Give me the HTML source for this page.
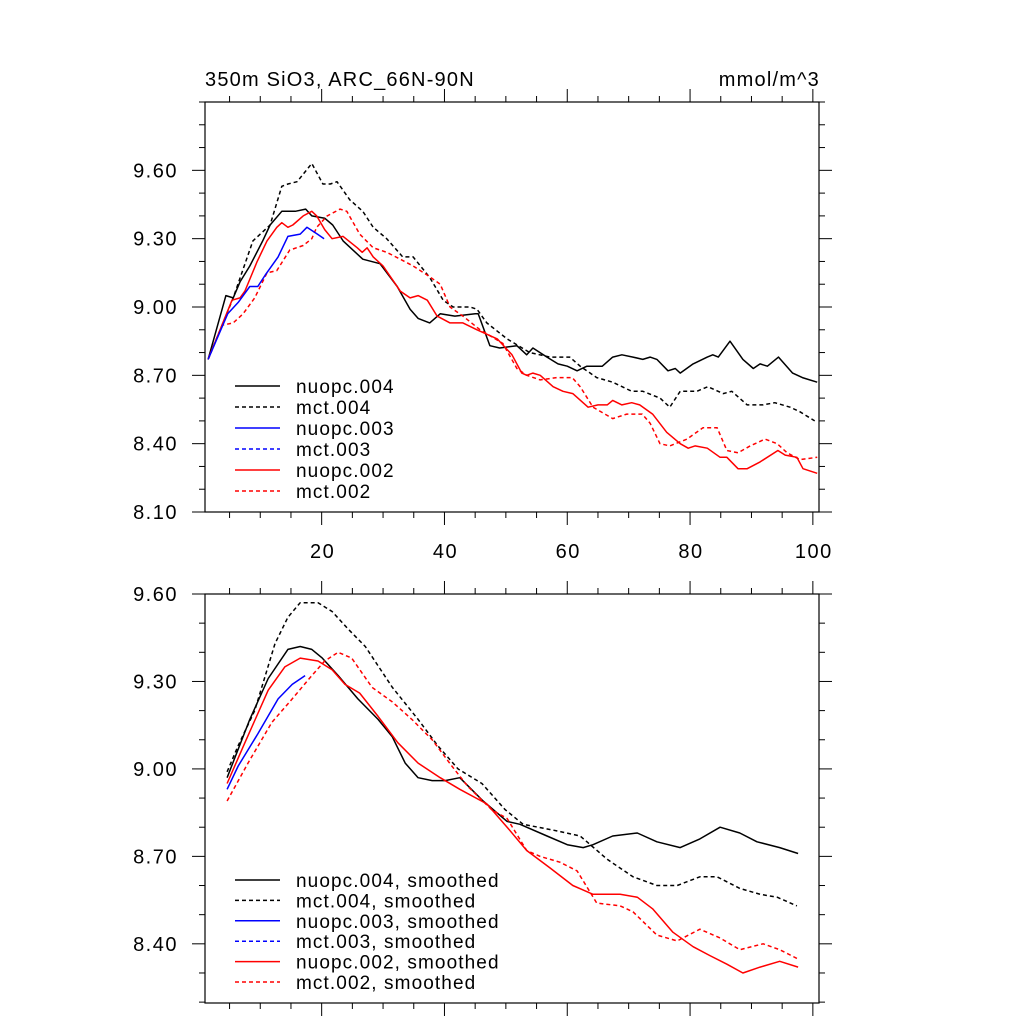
<!DOCTYPE html>
<html><head><meta charset="utf-8"><style>
html,body{margin:0;padding:0;background:#fff;}
svg{display:block;font-family:"Liberation Sans",sans-serif;}
</style></head><body>
<svg id="chart" width="1024" height="1024" viewBox="0 0 1024 1024" xmlns="http://www.w3.org/2000/svg">
<rect x="0" y="0" width="1024" height="1024" fill="#fff"/>
<text x="205" y="86" font-size="20" letter-spacing="1.2">350m SiO3, ARC_66N-90N</text>
<text x="820" y="86" font-size="20" letter-spacing="1.2" text-anchor="end">mmol/m^3</text>
<g id="top"></g>
<g id="bot"></g>
</svg>
<script>
// ---- data: top panel (raw) ----
const nuopc004X = [1.5,4.4,5.6,6.7,8.3,10.4,11.6,13.5,15.7,17.4,18.4,20.5,21.8,23.5,26.7,29.5,32.3,34.4,35.7,37.6,39.3,41.7,45,45.5,47.4,49.0,51.8,53.4,54.4,56.7,58.5,60.0,61.6,63.2,65.7,67.4,68.9,70.7,72.3,73.5,74.6,76.4,77.6,78.4,80.5,82.8,83.7,84.6,86.5,88.6,90.3,91.4,92.6,94.4,96.7,98.3,100.7];
const nuopc004Y = [8.77,9.05,9.04,9.11,9.18,9.29,9.36,9.42,9.42,9.43,9.40,9.39,9.36,9.29,9.21,9.19,9.09,8.99,8.95,8.93,8.97,8.96,8.97,8.97,8.83,8.82,8.83,8.79,8.82,8.78,8.75,8.74,8.72,8.74,8.74,8.78,8.79,8.78,8.77,8.78,8.77,8.72,8.73,8.71,8.75,8.78,8.79,8.78,8.85,8.77,8.73,8.75,8.74,8.78,8.71,8.69,8.67];
const mct004X = [1.5,5.6,8.8,10,11.6,13.5,14.5,16,18.4,20.2,21.4,22.5,24.6,26.7,28.4,30.6,33.2,34.9,37.6,39.8,41.4,44.2,45.3,46.9,50.2,53.9,57.2,60.4,62.1,64.8,67.4,70.5,72.3,75.1,76.7,78.4,81.1,82.9,85.4,86.8,89.3,91.9,93.8,96.3,97.9,100.3];
const mct004Y = [8.77,9.04,9.29,9.32,9.36,9.53,9.54,9.55,9.63,9.54,9.54,9.55,9.47,9.42,9.35,9.30,9.22,9.22,9.13,9.03,9.00,9.00,8.99,8.93,8.86,8.80,8.78,8.78,8.74,8.69,8.67,8.63,8.63,8.60,8.56,8.63,8.63,8.65,8.62,8.63,8.57,8.57,8.58,8.56,8.54,8.50];
const nuopc003X = [1.5,4.7,6.4,8.3,9.6,10.8,12.9,14.5,16.5,17.6,19.3,20.4];
const nuopc003Y = [8.77,8.97,9.02,9.09,9.09,9.14,9.22,9.31,9.32,9.35,9.32,9.30];
const nuopc002X = [1.5,5.4,6.7,7.5,9.5,11.1,12.7,13.5,14.5,15.3,17,18.4,19.2,20.5,21.7,23.5,25.8,26.6,27.4,28.4,30,32.8,34.4,35.7,37.2,38.8,40.9,43,45.3,48.6,51,52.6,53.4,54.4,55.6,57.7,59.3,60.9,63.4,65,66.5,67.4,68.9,70.5,71.8,73.9,76.2,78.4,79.7,80.8,82.8,84.9,86,87.8,89.3,91.4,94.3,95.5,97.4,98.4,100.7];
const nuopc002Y = [8.77,9.03,9.04,9.07,9.20,9.29,9.35,9.37,9.35,9.36,9.40,9.42,9.40,9.34,9.30,9.31,9.26,9.24,9.26,9.22,9.18,9.07,9.04,9.05,9.03,8.96,8.93,8.93,8.90,8.86,8.79,8.71,8.70,8.71,8.70,8.65,8.63,8.62,8.56,8.57,8.57,8.59,8.57,8.58,8.57,8.53,8.45,8.40,8.38,8.39,8.38,8.34,8.34,8.29,8.29,8.32,8.37,8.35,8.34,8.29,8.27];
const mct002X = [1.5,3.8,5.6,7.2,9.1,11.1,12.7,14.8,17,18.4,19.2,20.9,23,24.1,26.2,28.4,30.6,32.8,34.9,37.2,39.3,40.9,43,45.8,49.5,51.8,53.4,55.6,58.3,60.8,62.1,64.2,67.4,69.7,72.2,73.5,75.1,76.7,79.5,82.1,84.4,86,87.8,89.8,92.2,94.2,95.8,97.9,100.7];
const mct002Y = [8.77,8.92,8.93,8.97,9.04,9.15,9.16,9.25,9.27,9.30,9.35,9.40,9.43,9.42,9.32,9.26,9.24,9.21,9.18,9.14,9.10,9.00,8.96,8.90,8.84,8.73,8.70,8.68,8.69,8.69,8.65,8.56,8.51,8.53,8.53,8.49,8.40,8.39,8.42,8.47,8.47,8.37,8.36,8.39,8.42,8.40,8.36,8.33,8.34];

// ---- data: bottom panel (smoothed) ----
const sNuopc004X = [4.6,8.3,11.3,14.5,16.5,18.4,20.1,22.7,25.9,29.2,31.5,33.6,35.7,38,40.1,42.5,46.3,50.2,52.3,56.7,60,62.6,64.2,67.4,71.4,74.6,78.4,81.6,84.9,88.1,90.9,94.6,97.6];
const sNuopc004Y = [8.97,9.17,9.31,9.41,9.42,9.41,9.38,9.32,9.24,9.17,9.11,9.02,8.97,8.96,8.96,8.97,8.89,8.82,8.81,8.77,8.74,8.73,8.74,8.77,8.78,8.75,8.73,8.76,8.80,8.78,8.75,8.73,8.71];
const sMct004X = [4.6,6.4,9.1,12.4,14.5,16.5,19.4,21.7,24.3,27.1,31.5,35.7,38.9,42.2,46.1,49.9,52.8,57.7,62.1,66.5,70.7,74.6,77.9,81.6,84.4,88.1,91.4,94.2,97.4];
const sMct004Y = [8.99,9.08,9.20,9.43,9.52,9.57,9.57,9.54,9.48,9.42,9.28,9.17,9.08,9.00,8.95,8.86,8.81,8.79,8.77,8.69,8.63,8.60,8.60,8.63,8.63,8.59,8.57,8.56,8.53];
const sNuopc003X = [4.6,6.4,9.6,12.9,15.2,17.3];
const sNuopc003Y = [8.93,9.01,9.12,9.24,9.29,9.32];
const sNuopc002X = [4.6,7.5,11.3,14,16.5,19.4,21.7,23.8,26.2,29.2,32.4,35.7,39.3,42.5,46.9,50.2,53.4,57.2,60.9,64.2,68.6,71.4,73.9,77.2,80.5,83.2,86,88.6,91.4,94.6,97.6];
const sNuopc002Y = [8.95,9.09,9.27,9.35,9.38,9.37,9.34,9.29,9.26,9.18,9.09,9.02,8.97,8.93,8.88,8.80,8.72,8.66,8.60,8.57,8.57,8.56,8.52,8.44,8.39,8.36,8.33,8.30,8.32,8.34,8.32];
const sMct002X = [4.6,8,11.9,15.2,18.4,20.5,22.7,24.9,28.2,31.5,34.7,38,41.2,43.8,47.7,50.2,53.4,55.6,58.8,61.6,64.8,68.6,70.7,74.6,77.9,81.6,84.9,88.1,91.9,94.6,97.4];
const sMct002Y = [8.89,9.02,9.16,9.24,9.32,9.37,9.40,9.38,9.28,9.23,9.17,9.10,9.01,8.94,8.86,8.83,8.72,8.70,8.68,8.65,8.54,8.53,8.51,8.43,8.41,8.45,8.42,8.38,8.40,8.38,8.35];

// ---- axis ticks ----
const xTickVals = [20,40,60,80,100];
const xTickLabels = ["20","40","60","80","100"];
const topYTickVals = [8.10,8.40,8.70,9.00,9.30,9.60];
const topYTickLabels = ["8.10","8.40","8.70","9.00","9.30","9.60"];
const botYTickVals = [8.40,8.70,9.00,9.30,9.60];
const botYTickLabels = ["8.40","8.70","9.00","9.30","9.60"];
const topLegendLabels = ["nuopc.004","mct.004","nuopc.003","mct.003","nuopc.002","mct.002"];
const botLegendLabels = ["nuopc.004, smoothed","mct.004, smoothed","nuopc.003, smoothed","mct.003, smoothed","nuopc.002, smoothed","mct.002, smoothed"];

const NS = "http://www.w3.org/2000/svg";
function mk(tag, attrs, parent){
  const e = document.createElementNS(NS, tag);
  for (const k in attrs) e.setAttribute(k, attrs[k]);
  parent.appendChild(e);
  return e;
}
const L = 205, R = 819, XMIN = 1, XMAX = 101;
function xs(v){ return L + (v - XMIN) / (XMAX - XMIN) * (R - L); }

function panel(g, T, B, ymin, ymax, yTicks, yLabels, showXLabels, series, legendLabels, legendY){
  const ys = v => B - (v - ymin) / (ymax - ymin) * (B - T);
  const frame = mk('rect', {x:L, y:T, width:R-L, height:B-T, fill:'none', stroke:'#000', 'stroke-width':1.2}, g);
  
  
  for (let v = 5; v <= 100; v += 5) {
    const major = v % 20 === 0;
    const len = major ? 13 : 6;
    const x = xs(v);
    const t1 = mk('line', {x1:x, y1:B, x2:x, y2:B+len, stroke:'#000', 'stroke-width':1}, g);
    
    
    const t2 = mk('line', {x1:x, y1:T, x2:x, y2:T-len, stroke:'#000', 'stroke-width':1}, g);
    
    
  }
  if (showXLabels) {
    xTickVals.forEach((v, i) => {
      const t = mk('text', {x:xs(v)+1, y:B+46, 'font-size':20, 'letter-spacing':1.5, 'text-anchor':'middle'}, g);
      t.textContent = xTickLabels[i];
      
      
    });
  }
  for (let k = Math.ceil(ymin * 10 - 1e-6); k <= Math.floor(ymax * 10 + 1e-6); k++) {
    const v = k / 10;
    const major = yTicks.some(t => Math.abs(t - v) < 1e-6);
    const len = major ? 13 : 6;
    const y = ys(v);
    const a = mk('line', {x1:L, y1:y, x2:L-len, y2:y, stroke:'#000', 'stroke-width':1}, g);
    
    
    const b = mk('line', {x1:R, y1:y, x2:R+len, y2:y, stroke:'#000', 'stroke-width':1}, g);
    
    
  }
  yTicks.forEach((v, i) => {
    const t = mk('text', {x:178, y:ys(v)+7, 'font-size':20, 'letter-spacing':1.5, 'text-anchor':'end'}, g);
    t.textContent = yLabels[i];
    
    
  });
  series.forEach(s => {
    let d = '';
    s.x.forEach((xv, i) => { d += (i ? 'L' : 'M') + xs(xv).toFixed(1) + ',' + ys(s.y[i]).toFixed(1); });
    const p = mk('path', {d:d, fill:'none', stroke:s.c, 'stroke-width':1.5, 'stroke-linejoin':'round'}, g);
    if (s.dash) p.setAttribute('stroke-dasharray', '4,3');
    
    
  });
  const legStyles = [['#000',0],['#000',1],['#00f',0],['#00f',1],['#f00',0],['#f00',1]];
  legendLabels.forEach((lab, i) => {
    const y = legendY[0] + i * legendY[1];
    const ln = mk('line', {x1:235, y1:y, x2:280, y2:y, stroke:legStyles[i][0], 'stroke-width':1.5}, g);
    if (legStyles[i][1]) ln.setAttribute('stroke-dasharray', '4,3');
    
    
    const t = mk('text', {x:296, y:y+7, 'font-size':19, 'letter-spacing':1.1}, g);
    t.textContent = lab;
    
    
  });
}

panel(document.getElementById('top'), 102, 512, 8.10, 9.90, topYTickVals, topYTickLabels, true, [
  {x:nuopc004X, y:nuopc004Y, c:'#000', dash:0, name:'nuopc004-line'},
  {x:mct004X, y:mct004Y, c:'#000', dash:1, name:'mct004-line'},
  {x:mct002X, y:mct002Y, c:'#f00', dash:1, name:'mct002-line'},
  {x:nuopc002X, y:nuopc002Y, c:'#f00', dash:0, name:'nuopc002-line'},
  {x:nuopc003X, y:nuopc003Y, c:'#00f', dash:0, name:'nuopc003-line'}
], topLegendLabels, [386, 21]);

panel(document.getElementById('bot'), 594, 1003, 8.197, 9.60, botYTickVals, botYTickLabels, false, [
  {x:sNuopc004X, y:sNuopc004Y, c:'#000', dash:0, name:'nuopc004-smoothed-line'},
  {x:sMct004X, y:sMct004Y, c:'#000', dash:1, name:'mct004-smoothed-line'},
  {x:sMct002X, y:sMct002Y, c:'#f00', dash:1, name:'mct002-smoothed-line'},
  {x:sNuopc002X, y:sNuopc002Y, c:'#f00', dash:0, name:'nuopc002-smoothed-line'},
  {x:sNuopc003X, y:sNuopc003Y, c:'#00f', dash:0, name:'nuopc003-smoothed-line'}
], botLegendLabels, [880, 20.4]);
</script>
</body></html>
